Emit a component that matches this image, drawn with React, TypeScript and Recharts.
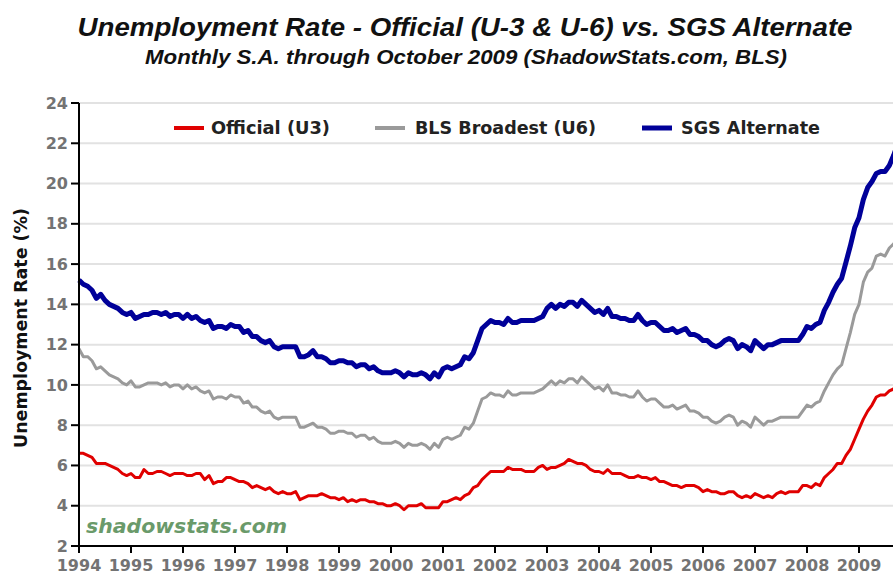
import React from 'react';
import { LineChart, Line, XAxis, YAxis, CartesianGrid, Legend } from 'recharts';

const yearLabels = ['1994','1995','1996','1997','1998','1999','2000','2001','2002','2003','2004','2005','2006','2007','2008','2009'];
const yTicks = [2, 4, 6, 8, 10, 12, 14, 16, 18, 20, 22, 24];

const seriesNames = ['Official (U3)', 'BLS Broadest (U6)', 'SGS Alternate'];
const seriesColors = ['#e00000', '#9a9a9a', '#000099'];

// Official U-3, monthly Jan 1994 - Oct 2009
const u3 = [
  6.6, 6.6, 6.5, 6.4, 6.1, 6.1, 6.1, 6.0, 5.9, 5.8, 5.6, 5.5,
  5.6, 5.4, 5.4, 5.8, 5.6, 5.6, 5.7, 5.7, 5.6, 5.5, 5.6, 5.6,
  5.6, 5.5, 5.5, 5.6, 5.6, 5.3, 5.5, 5.1, 5.2, 5.2, 5.4, 5.4,
  5.3, 5.2, 5.2, 5.1, 4.9, 5.0, 4.9, 4.8, 4.9, 4.7, 4.6, 4.7,
  4.6, 4.6, 4.7, 4.3, 4.4, 4.5, 4.5, 4.5, 4.6, 4.5, 4.4, 4.4,
  4.3, 4.4, 4.2, 4.3, 4.2, 4.3, 4.3, 4.2, 4.2, 4.1, 4.1, 4.0,
  4.0, 4.1, 4.0, 3.8, 4.0, 4.0, 4.0, 4.1, 3.9, 3.9, 3.9, 3.9,
  4.2, 4.2, 4.3, 4.4, 4.3, 4.5, 4.6, 4.9, 5.0, 5.3, 5.5, 5.7,
  5.7, 5.7, 5.7, 5.9, 5.8, 5.8, 5.8, 5.7, 5.7, 5.7, 5.9, 6.0,
  5.8, 5.9, 5.9, 6.0, 6.1, 6.3, 6.2, 6.1, 6.1, 6.0, 5.8, 5.7,
  5.7, 5.6, 5.8, 5.6, 5.6, 5.6, 5.5, 5.4, 5.4, 5.5, 5.4, 5.4,
  5.3, 5.4, 5.2, 5.2, 5.1, 5.0, 5.0, 4.9, 5.0, 5.0, 5.0, 4.9,
  4.7, 4.8, 4.7, 4.7, 4.6, 4.6, 4.7, 4.7, 4.5, 4.4, 4.5, 4.4,
  4.6, 4.5, 4.4, 4.5, 4.4, 4.6, 4.7, 4.6, 4.7, 4.7, 4.7, 5.0,
  5.0, 4.9, 5.1, 5.0, 5.4, 5.6, 5.8, 6.1, 6.1, 6.5, 6.8, 7.3,
  7.8, 8.3, 8.7, 9.0, 9.4, 9.5, 9.5, 9.7, 9.8, 10.2,
];

// BLS broadest U-6
const u6 = [
  11.8, 11.4, 11.4, 11.2, 10.8, 10.9, 10.7, 10.5, 10.4, 10.3, 10.1, 10.0,
  10.2, 9.9, 9.9, 10.0, 10.1, 10.1, 10.1, 10.0, 10.1, 9.9, 10.0, 10.0,
  9.8, 10.0, 9.8, 9.9, 9.7, 9.6, 9.7, 9.3, 9.4, 9.4, 9.3, 9.5,
  9.4, 9.4, 9.1, 9.2, 8.9, 8.9, 8.7, 8.6, 8.7, 8.4, 8.3, 8.4,
  8.4, 8.4, 8.4, 7.9, 7.9, 8.0, 8.1, 7.9, 7.9, 7.8, 7.6, 7.6,
  7.7, 7.7, 7.6, 7.6, 7.4, 7.5, 7.5, 7.3, 7.4, 7.2, 7.1, 7.1,
  7.1, 7.2, 7.1, 6.9, 7.1, 7.0, 7.0, 7.1, 7.0, 6.8, 7.1, 6.9,
  7.3, 7.4, 7.3, 7.4, 7.5, 7.9, 7.8, 8.1, 8.7, 9.3, 9.4, 9.6,
  9.5, 9.5, 9.4, 9.7, 9.5, 9.5, 9.6, 9.6, 9.6, 9.6, 9.7, 9.8,
  10.0, 10.2, 10.0, 10.2, 10.1, 10.3, 10.3, 10.1, 10.4, 10.2, 10.0, 9.8,
  9.9, 9.7, 10.0, 9.6, 9.6, 9.5, 9.5, 9.4, 9.4, 9.7, 9.4, 9.2,
  9.3, 9.3, 9.1, 8.9, 8.9, 9.0, 8.8, 8.9, 9.0, 8.7, 8.7, 8.6,
  8.4, 8.4, 8.2, 8.1, 8.2, 8.4, 8.5, 8.4, 8.0, 8.2, 8.1, 7.9,
  8.4, 8.2, 8.0, 8.2, 8.2, 8.3, 8.4, 8.4, 8.4, 8.4, 8.4, 8.7,
  9.0, 8.9, 9.1, 9.2, 9.7, 10.1, 10.5, 10.8, 11.0, 11.8, 12.6, 13.5,
  14.0, 15.1, 15.6, 15.8, 16.4, 16.5, 16.4, 16.8, 17.0, 17.4,
];

// SGS alternate
const sgs = [
  15.2, 15.0, 14.9, 14.7, 14.3, 14.5, 14.2, 14.0, 13.9, 13.8, 13.6, 13.5,
  13.6, 13.3, 13.4, 13.5, 13.5, 13.6, 13.6, 13.5, 13.6, 13.4, 13.5, 13.5,
  13.3, 13.5, 13.3, 13.4, 13.2, 13.1, 13.2, 12.8, 12.9, 12.9, 12.8, 13.0,
  12.9, 12.9, 12.6, 12.7, 12.4, 12.4, 12.2, 12.1, 12.2, 11.9, 11.8, 11.9,
  11.9, 11.9, 11.9, 11.4, 11.4, 11.5, 11.7, 11.4, 11.4, 11.3, 11.1, 11.1,
  11.2, 11.2, 11.1, 11.1, 10.9, 11.0, 11.0, 10.8, 10.9, 10.7, 10.6, 10.6,
  10.6, 10.7, 10.6, 10.4, 10.6, 10.5, 10.5, 10.6, 10.5, 10.3, 10.6, 10.4,
  10.8, 10.9, 10.8, 10.9, 11.0, 11.4, 11.3, 11.6, 12.2, 12.8, 13.0, 13.2,
  13.1, 13.1, 13.0, 13.3, 13.1, 13.1, 13.2, 13.2, 13.2, 13.2, 13.3, 13.4,
  13.8, 14.0, 13.8, 14.0, 13.9, 14.1, 14.1, 13.9, 14.2, 14.0, 13.8, 13.6,
  13.7, 13.5, 13.8, 13.4, 13.4, 13.3, 13.3, 13.2, 13.2, 13.5, 13.2, 13.0,
  13.1, 13.1, 12.9, 12.7, 12.7, 12.8, 12.6, 12.7, 12.8, 12.5, 12.5, 12.4,
  12.2, 12.2, 12.0, 11.9, 12.0, 12.2, 12.3, 12.2, 11.8, 12.0, 11.9, 11.7,
  12.2, 12.0, 11.8, 12.0, 12.0, 12.1, 12.2, 12.2, 12.2, 12.2, 12.2, 12.5,
  12.9, 12.8, 13.0, 13.1, 13.7, 14.1, 14.6, 15.0, 15.3, 16.1, 16.9, 17.8,
  18.3, 19.2, 19.8, 20.1, 20.5, 20.6, 20.6, 20.9, 21.4, 22.0,
];

const data = u3.map((v, i) => ({ m: i, u3: v, u6: u6[i], sgs: sgs[i] }));
const xTicks = yearLabels.map((_, i) => i * 12);
const lastIndex = u3.length - 1;

const axisFont = "'DejaVu Sans', Verdana, sans-serif";
const titleFont = "'Liberation Sans', Arial, Helvetica, sans-serif";

const legendLayout = [
  { lineX: 174, textX: 211, textLen: 119, sw: 4 },
  { lineX: 375, textX: 415, textLen: 181, sw: 4 },
  { lineX: 642, textX: 681, textLen: 139, sw: 5 },
];

const renderLegend = (props: any) => {
  const payload = props.payload || [];
  return (
    <svg width={900} height={30} style={{ display: 'block' }}>
      {payload.map((p: any, i: number) => {
        const idx = seriesNames.indexOf(p.value);
        const l = legendLayout[idx >= 0 ? idx : i] || legendLayout[0];
        const color = idx >= 0 ? seriesColors[idx] : p.color;
        return (
          <g key={p.value}>
            <line x1={l.lineX} x2={l.lineX + 30} y1={18} y2={18} stroke={color} strokeWidth={l.sw} />
            <text x={l.textX} y={24} fontFamily={axisFont} fontWeight="bold" fontSize={17} fill="#222"
              textLength={l.textLen} lengthAdjust="spacingAndGlyphs">{p.value}</text>
          </g>
        );
      })}
    </svg>
  );
};

export default function App() {
  return (
    <div style={{ position: 'absolute', left: 0, top: 0, width: 893, height: 575, overflow: 'hidden', background: '#fff' }}>
      <LineChart width={900} height={575} data={data} margin={{ top: 103, right: 2, bottom: 4, left: 29 }}>
        <CartesianGrid horizontal vertical={false} stroke="#e2e2e2" strokeWidth={2} />
        <XAxis
          dataKey="m"
          type="number"
          domain={[0, lastIndex]}
          ticks={xTicks}
          interval={0}
          tickFormatter={(v: number) => yearLabels[Math.round(v / 12)]}
          height={25}
          tickSize={7}
          tickMargin={7}
          axisLine={{ stroke: '#000', strokeWidth: 2 }}
          tickLine={{ stroke: '#000', strokeWidth: 2 }}
          tick={{ fill: '#737373', fontSize: 16, fontWeight: 'bold', fontFamily: axisFont }}
        />
        <YAxis
          domain={[2, 24]}
          ticks={yTicks}
          interval={0}
          width={50}
          tickSize={8}
          tickMargin={3}
          axisLine={{ stroke: '#000', strokeWidth: 2 }}
          tickLine={{ stroke: '#000', strokeWidth: 2 }}
          tick={{ fill: '#737373', fontSize: 16, fontWeight: 'bold', fontFamily: axisFont }}
        />
        <Legend
          layout="horizontal"
          verticalAlign="middle"
          align="center"
          wrapperStyle={{ top: 110, left: 0, width: 900, height: 30 }}
          content={renderLegend}
        />
        <Line type="linear" dataKey="u3" name={seriesNames[0]} stroke={seriesColors[0]} strokeWidth={3} dot={false} isAnimationActive={false} strokeLinejoin="round" />
        <Line type="linear" dataKey="u6" name={seriesNames[1]} stroke={seriesColors[1]} strokeWidth={3} dot={false} isAnimationActive={false} strokeLinejoin="round" />
        <Line type="linear" dataKey="sgs" name={seriesNames[2]} stroke={seriesColors[2]} strokeWidth={5} dot={false} isAnimationActive={false} strokeLinejoin="round" />
      </LineChart>
      <svg width={893} height={575} style={{ position: 'absolute', left: 0, top: 0, pointerEvents: 'none' }}>
        <text x={465} y={36} textAnchor="middle" fontFamily={titleFont} fontWeight="bold" fontStyle="italic" fontSize={26} fill="#111"
          textLength={775} lengthAdjust="spacingAndGlyphs">Unemployment Rate - Official (U-3 &amp; U-6) vs. SGS Alternate</text>
        <text x={466} y={64} textAnchor="middle" fontFamily={titleFont} fontWeight="bold" fontStyle="italic" fontSize={21} fill="#111"
          textLength={642} lengthAdjust="spacingAndGlyphs">Monthly S.A. through October 2009 (ShadowStats.com, BLS)</text>
        <text transform="translate(27,328) rotate(-90)" textAnchor="middle" fontFamily={axisFont} fontWeight="bold" fontSize={17} fill="#111"
          textLength={240} lengthAdjust="spacingAndGlyphs">Unemployment Rate (%)</text>
        <text x={86} y={533} fontFamily={axisFont} fontWeight="bold" fontStyle="italic" fontSize={20} fill="#6a9a6a"
          textLength={201} lengthAdjust="spacingAndGlyphs">shadowstats.com</text>
      </svg>
    </div>
  );
}
